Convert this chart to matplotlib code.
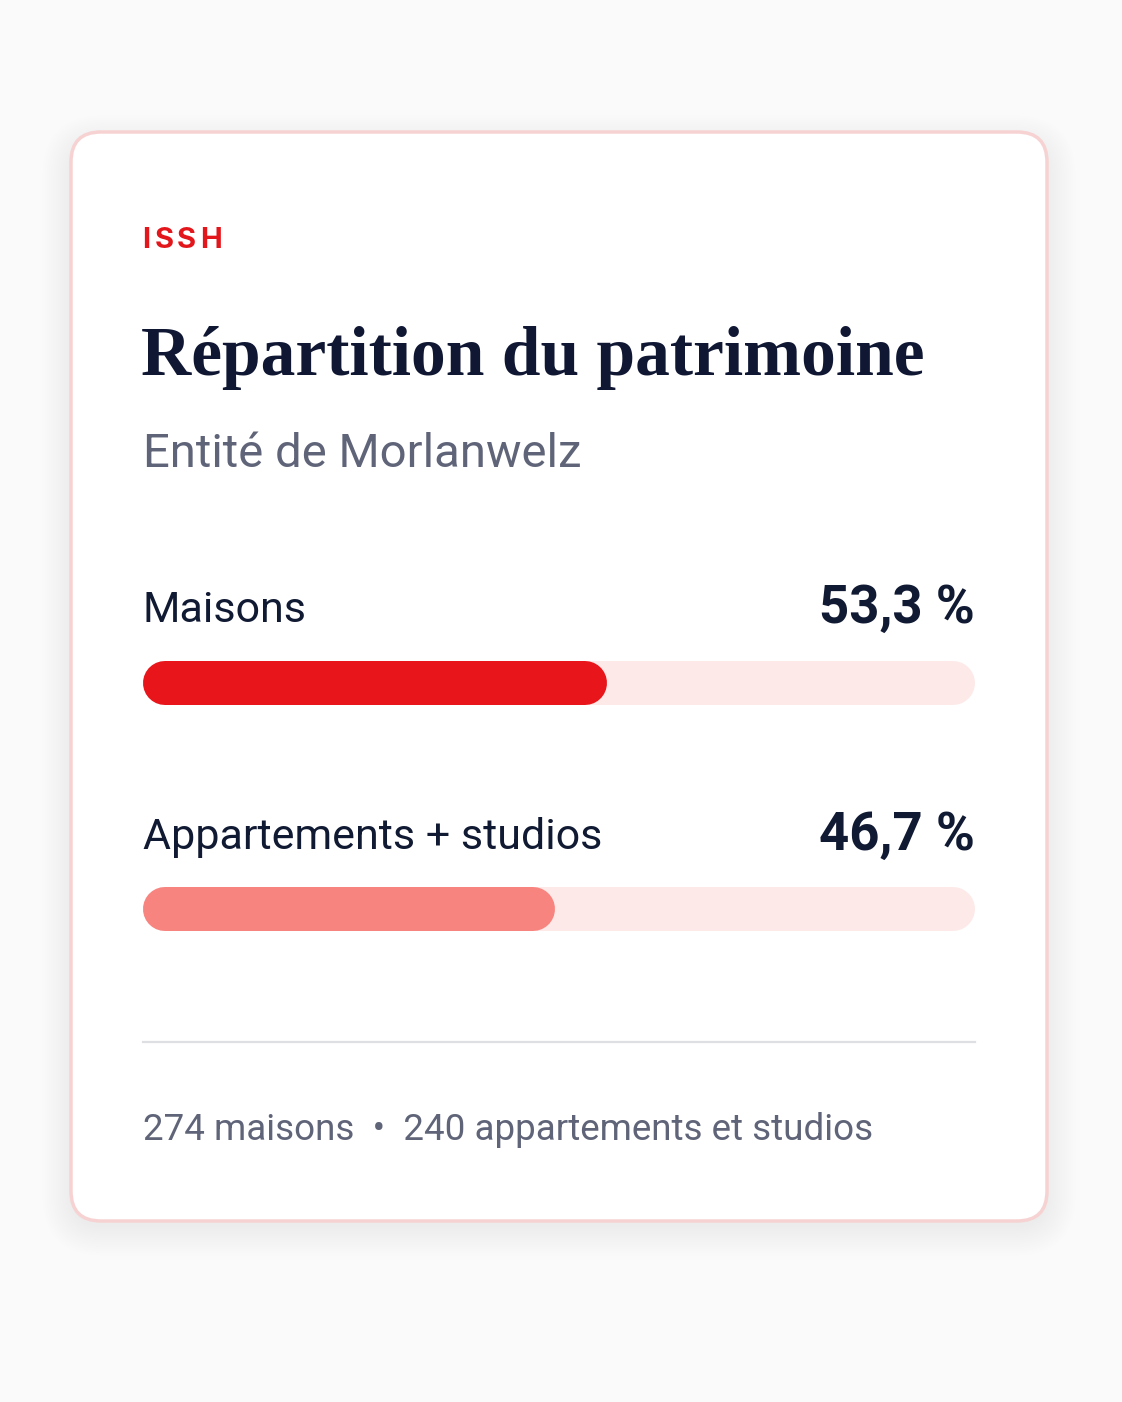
import matplotlib
matplotlib.use("Agg")
import matplotlib.pyplot as plt
from matplotlib.patches import FancyBboxPatch

# data
categories = ["Maisons", "Appartements + studios"]
shares = [53.3, 46.7]
counts = [274, 240]
fill_colors = ["#e8161b", "#f8847f"]
track_color = "#fde9e8"

kicker = "ISSH"
title = "Répartition du patrimoine"
subtitle = "Entité de Morlanwelz"
footer = f"{counts[0]} maisons  •  {counts[1]} appartements et studios"

W, H = 1122, 1402
fig = plt.figure(figsize=(W / 100, H / 100), dpi=100)
fig.patch.set_facecolor("#fafafa")

# background axes in pixel units
bg = fig.add_axes([0, 0, 1, 1])
bg.set_xlim(0, W)
bg.set_ylim(H, 0)
bg.axis("off")

# card shadow, a few soft layers
for k in range(14):
    grow = 2 + k * 2.2
    bg.add_patch(FancyBboxPatch((71 - grow + 2, 132 - grow + 14), 976 + 2 * grow - 4, 1089 + 2 * grow - 10,
                                boxstyle=f"round,pad=0,rounding_size={30 + grow}",
                                facecolor="#000000", edgecolor="none", alpha=0.005, zorder=1))
bg.add_patch(FancyBboxPatch((71, 132), 976, 1089, boxstyle="round,pad=0,rounding_size=30",
                            facecolor="#ffffff", edgecolor="#f6d3d2", linewidth=2.5, zorder=2))

sans = ["Roboto", "DejaVu Sans"]
ink = "#111a33"
grey = "#5f6478"

# kicker with letter spacing
x = 142
for ch, step in zip(kicker, [13, 22, 23, 0]):
    bg.text(x, 248, ch, color="#e2161b", fontsize=21, fontweight="bold",
            family=["Inter", "DejaVu Sans"], va="baseline", ha="left", zorder=3)
    x += step

bg.text(141, 375, title, color="#0f1733", fontsize=50, fontweight="bold",
        family=["Liberation Serif", "DejaVu Serif"], va="baseline", ha="left", zorder=3)
bg.text(143, 467, subtitle, color=grey, fontsize=34, family=sans,
        va="baseline", ha="left", zorder=3)

label_base = [622, 849]
for lab, val, yb in zip(categories, shares, label_base):
    bg.text(143, yb, lab, color=ink, fontsize=31, family=sans,
            va="baseline", ha="left", zorder=3)
    bg.text(975, yb + 1, f"{val:.1f}".replace(".", ",") + " %", color=ink, fontsize=38,
            fontweight="bold", family=sans, va="baseline", ha="right", zorder=3)

bg.plot([143, 975], [1042, 1042], color="#dedfe2", lw=1.6, zorder=3)
bg.text(143, 1140, footer, color=grey, fontsize=26.5, family=sans,
        va="baseline", ha="left", zorder=3)

# bars axes: 0..100 maps between the round cap centres
bar_h = 44
r = bar_h / 2
x0, x1 = 143 + r, 975 - r
top, bottom = 661, 931
ax = fig.add_axes([x0 / W, 1 - bottom / H, (x1 - x0) / W, (bottom - top) / H])
ax.set_xlim(0, 100)
ax.set_ylim(bottom, top)
ax.axis("off")
bar_y = [683, 909]
lw_pt = bar_h * 72 / 100
for val, yc, col in zip(shares, bar_y, fill_colors):
    ax.plot([0, 100], [yc, yc], color=track_color, lw=lw_pt, solid_capstyle="round",
            clip_on=False, zorder=1)
    ax.plot([0, val], [yc, yc], color=col, lw=lw_pt, solid_capstyle="round",
            clip_on=False, zorder=2)

fig.savefig("out.png", dpi=100, facecolor=fig.get_facecolor())
